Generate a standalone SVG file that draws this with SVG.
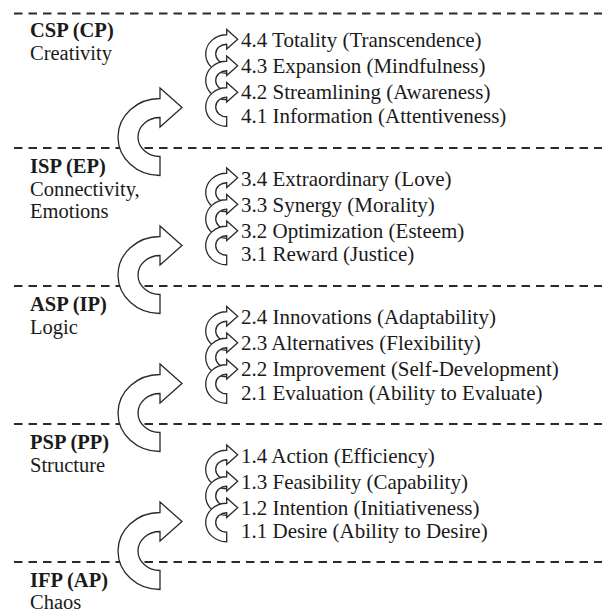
<svg xmlns="http://www.w3.org/2000/svg" xmlns:xlink="http://www.w3.org/1999/xlink" width="602" height="612" viewBox="0 0 602 612">
<style>
.dash{stroke:#2a2a2a;stroke-width:2;stroke-dasharray:8.5 6;fill:none}
.arr{fill:#fff;stroke:#2a2a2a;stroke-width:1.3;stroke-linejoin:miter}
.lbl{font-family:"Liberation Serif","Times New Roman",serif;font-size:20.5px;fill:#1a1a1a}
.lbl .b{font-weight:bold}
.itm{font-family:"Liberation Serif","Times New Roman",serif;font-size:21px;fill:#1a1a1a}
</style>
<defs>
<path id="ca" vector-effect="non-scaling-stroke" d="M 0 38.5 A 42 38.5 0 0 1 -42 0 A 42 38.5 0 0 1 0 -38.5 L 0 -49 L 22 -29.5 L 0 -10 L 0 -19.5 A 22 19.5 0 0 0 -22 0 A 22 19.5 0 0 0 0 19.5 Z"/>
</defs>
<rect width="602" height="612" fill="#fff"/>
<g id="levels">
<line class="dash" x1="14" y1="13.5" x2="602" y2="13.5"/>
<line class="dash" x1="14" y1="148" x2="602" y2="148"/>
<line class="dash" x1="14" y1="286" x2="602" y2="286"/>
<line class="dash" x1="14" y1="424" x2="602" y2="424"/>
<line class="dash" x1="14" y1="562" x2="602" y2="562"/>
</g>
<g id="connectors">
<use class="arr" xlink:href="#ca" transform="translate(160,137)"/>
<use class="arr" xlink:href="#ca" transform="translate(160,275)"/>
<use class="arr" xlink:href="#ca" transform="translate(160,413)"/>
<use class="arr" xlink:href="#ca" transform="translate(160,551)"/>
<use class="arr" xlink:href="#ca" transform="translate(226.7,54) scale(0.5)"/>
<use class="arr" xlink:href="#ca" transform="translate(226.7,80.5) scale(0.5)"/>
<use class="arr" xlink:href="#ca" transform="translate(226.7,107) scale(0.5)"/>
<use class="arr" xlink:href="#ca" transform="translate(226.7,192.5) scale(0.5)"/>
<use class="arr" xlink:href="#ca" transform="translate(226.7,219) scale(0.5)"/>
<use class="arr" xlink:href="#ca" transform="translate(226.7,245.5) scale(0.5)"/>
<use class="arr" xlink:href="#ca" transform="translate(226.7,331) scale(0.5)"/>
<use class="arr" xlink:href="#ca" transform="translate(226.7,357.5) scale(0.5)"/>
<use class="arr" xlink:href="#ca" transform="translate(226.7,384) scale(0.5)"/>
<use class="arr" xlink:href="#ca" transform="translate(226.7,469.5) scale(0.5)"/>
<use class="arr" xlink:href="#ca" transform="translate(226.7,496) scale(0.5)"/>
<use class="arr" xlink:href="#ca" transform="translate(226.7,522.5) scale(0.5)"/>
</g>
<g id="csp">
<text class="lbl" x="30" y="37"><tspan class="b">CSP (CP)</tspan><tspan x="30" y="59.5">Creativity</tspan></text>
<text class="itm" x="241" y="47">4.4 Totality (Transcendence)</text>
<text class="itm" x="241" y="73">4.3 Expansion (Mindfulness)</text>
<text class="itm" x="241" y="99">4.2 Streamlining (Awareness)</text>
<text class="itm" x="241" y="122.5">4.1 Information (Attentiveness)</text>
</g>
<g id="isp">
<text class="lbl" x="30" y="173"><tspan class="b">ISP (EP)</tspan><tspan x="30" y="195.5">Connectivity,</tspan><tspan x="30" y="218">Emotions</tspan></text>
<text class="itm" x="241" y="185.5">3.4 Extraordinary (Love)</text>
<text class="itm" x="241" y="211.5">3.3 Synergy (Morality)</text>
<text class="itm" x="241" y="237.5">3.2 Optimization (Esteem)</text>
<text class="itm" x="241" y="261">3.1 Reward (Justice)</text>
</g>
<g id="asp">
<text class="lbl" x="30" y="311"><tspan class="b">ASP (IP)</tspan><tspan x="30" y="333.5">Logic</tspan></text>
<text class="itm" x="241" y="324">2.4 Innovations (Adaptability)</text>
<text class="itm" x="241" y="350">2.3 Alternatives (Flexibility)</text>
<text class="itm" x="241" y="376">2.2 Improvement (Self-Development)</text>
<text class="itm" x="241" y="399.5">2.1 Evaluation (Ability to Evaluate)</text>
</g>
<g id="psp">
<text class="lbl" x="30" y="449"><tspan class="b">PSP (PP)</tspan><tspan x="30" y="471.5">Structure</tspan></text>
<text class="itm" x="241" y="462.5">1.4 Action (Efficiency)</text>
<text class="itm" x="241" y="488.5">1.3 Feasibility (Capability)</text>
<text class="itm" x="241" y="514.5">1.2 Intention (Initiativeness)</text>
<text class="itm" x="241" y="538">1.1 Desire (Ability to Desire)</text>
</g>
<g id="ifp">
<text class="lbl" x="30" y="587"><tspan class="b">IFP (AP)</tspan><tspan x="30" y="609">Chaos</tspan></text>
</g>
</svg>
